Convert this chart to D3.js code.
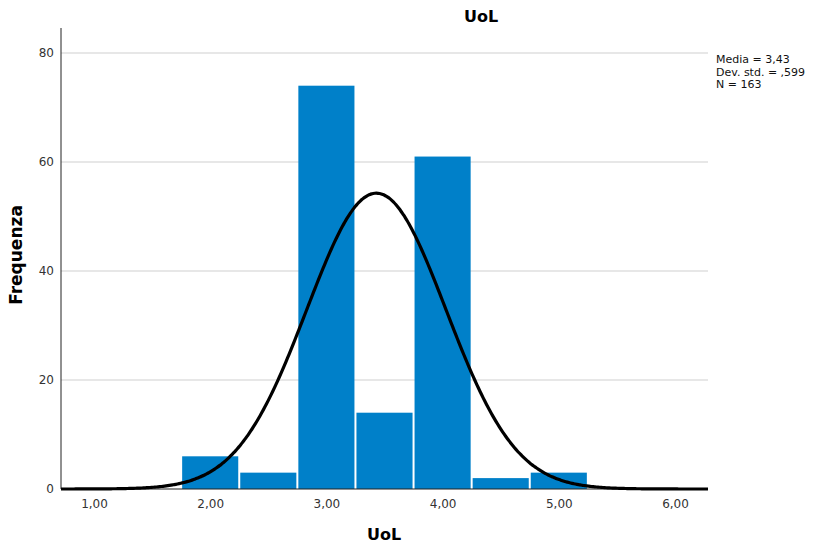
<!DOCTYPE html>
<html><head><meta charset="utf-8">
<script src="https://cdn.jsdelivr.net/npm/d3@7"></script>
<style>body{margin:0;background:#fff}svg{display:block}</style>
</head><body>
<svg id="c" width="815" height="545"></svg>
<script>
const binStarts = [1.75, 2.25, 2.75, 3.25, 3.75, 4.25, 4.75];
const binWidth = 0.5;
const counts = [6, 3, 74, 14, 61, 2, 3];
const xTicks = [1, 2, 3, 4, 5, 6];
const yTicks = [0, 20, 40, 60, 80];
const stats = {mean: 3.43, sd: 0.599, n: 163};
const legendLines = ["Media = 3,43", "Dev. std. = ,599", "N = 163"];

const svg = d3.select("#c");
const font = "DejaVu Sans, sans-serif";
const L = 61, R = 708, T = 28, B = 489;
const x = d3.scaleLinear().domain([0.716, 6.284]).range([L, R]);
const y = d3.scaleLinear().domain([0, 80]).range([B, 53]);

// gridlines
svg.append("g").selectAll("line").data(yTicks.filter(d => d > 0)).join("line")
  .attr("x1", L).attr("x2", R).attr("y1", d => y(d)).attr("y2", d => y(d))
  .attr("stroke", "#cfcfcf").attr("stroke-width", 1.2);

// bars
svg.append("g").selectAll("rect").data(counts).join("rect")
  .attr("x", (d, i) => x(binStarts[i]) + 1)
  .attr("width", (d, i) => x(binStarts[i] + binWidth) - x(binStarts[i]) - 2)
  .attr("y", d => y(d))
  .attr("height", d => y(0) - y(d))
  .attr("fill", "#0080c9");

// axes
const yAxis = d3.axisLeft(y).tickValues(yTicks).tickSize(0).tickPadding(7);
const gy = svg.append("g").attr("transform", `translate(${L},0)`).call(yAxis);
gy.select(".domain").remove();
gy.selectAll("text").attr("font-family", font).attr("font-size", 12).attr("fill", "#333");
svg.append("line").attr("x1", L).attr("x2", L).attr("y1", T).attr("y2", B)
  .attr("stroke", "#222").attr("stroke-width", 1);

const xAxis = d3.axisBottom(x).tickValues(xTicks).tickSize(0).tickPadding(10)
  .tickFormat(d => d3.format(".2f")(d).replace(".", ","));
const gx = svg.append("g").attr("transform", `translate(0,${B})`).call(xAxis);
gx.select(".domain").remove();
gx.selectAll("text").attr("font-family", font).attr("font-size", 12).attr("fill", "#333");
svg.append("line").attr("x1", L).attr("x2", R).attr("y1", B).attr("y2", B)
  .attr("stroke", "#222").attr("stroke-width", 1.2);

// normal curve
const pdf = v => Math.exp(-0.5 * ((v - stats.mean) / stats.sd) ** 2) / (stats.sd * Math.sqrt(2 * Math.PI));
const pts = d3.range(0, 401).map(i => {
  const v = x.domain()[0] + (x.domain()[1] - x.domain()[0]) * i / 400;
  return [v, stats.n * binWidth * pdf(v)];
});
svg.append("path").datum(pts)
  .attr("d", d3.line().x(d => x(d[0])).y(d => y(d[1])).curve(d3.curveBasis))
  .attr("fill", "none").attr("stroke", "#000").attr("stroke-width", 3.2);

// titles
svg.append("text").attr("x", 481).attr("y", 22).attr("text-anchor", "middle")
  .attr("font-family", font).attr("font-weight", "bold").attr("font-size", 16).text("UoL");
svg.append("text").attr("x", 384).attr("y", 540).attr("text-anchor", "middle")
  .attr("font-family", font).attr("font-weight", "bold").attr("font-size", 16).text("UoL");
svg.append("text").attr("transform", "translate(22,255) rotate(-90)").attr("text-anchor", "middle")
  .attr("font-family", font).attr("font-weight", "bold").attr("font-size", 17).text("Frequenza");

// legend
svg.append("g").selectAll("text").data(legendLines).join("text")
  .attr("x", 716).attr("y", (d, i) => 63 + i * 12.5)
  .attr("font-family", font).attr("font-size", 11).attr("fill", "#111").text(d => d);
</script>
</body></html>
